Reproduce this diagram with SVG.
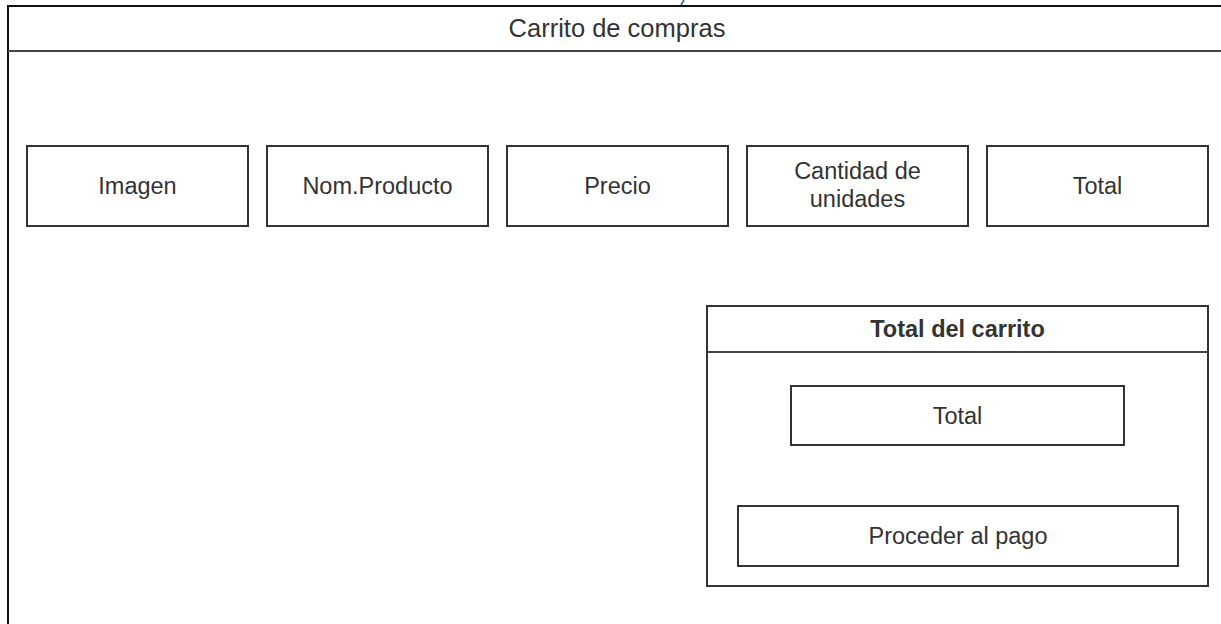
<svg xmlns="http://www.w3.org/2000/svg" width="1221" height="624" viewBox="0 0 1221 624">
  <style>
    .box { fill: #ffffff; stroke: #333333; stroke-width: 2; }
    .frame { fill: #ffffff; stroke: #111111; stroke-width: 2; }
    .sep { stroke: #444444; stroke-width: 2; fill: none; }
    .lbl { font-family: "Liberation Sans", Arial, sans-serif; font-size: 23.5px; fill: #333333; text-anchor: middle; }
    .hdr { font-family: "Liberation Sans", Arial, sans-serif; font-size: 25.5px; fill: #333333; text-anchor: middle; }
    .bold { font-weight: bold; }
  </style>
  <rect width="1221" height="624" fill="#ffffff"/>
  <line x1="684" y1="0" x2="681" y2="5" stroke="#2f5597" stroke-width="1.5"/>

  <g id="carrito">
    <rect class="frame" x="8" y="6" width="1240" height="640"/>
    <line class="sep" x1="8" y1="51" x2="1221" y2="51"/>
    <text class="hdr" x="617" y="37">Carrito de compras</text>
  </g>

  <g id="imagen">
    <rect class="box" x="27" y="146" width="221" height="80"/>
    <text class="lbl" x="137.5" y="194">Imagen</text>
  </g>
  <g id="nomproducto">
    <rect class="box" x="267" y="146" width="221" height="80"/>
    <text class="lbl" x="377.5" y="194">Nom.Producto</text>
  </g>
  <g id="precio">
    <rect class="box" x="507" y="146" width="221" height="80"/>
    <text class="lbl" x="617.5" y="194">Precio</text>
  </g>
  <g id="cantidad">
    <rect class="box" x="747" y="146" width="221" height="80"/>
    <text class="lbl" x="857.5" y="179">Cantidad de</text>
    <text class="lbl" x="857.5" y="207">unidades</text>
  </g>
  <g id="total">
    <rect class="box" x="987" y="146" width="221" height="80"/>
    <text class="lbl" x="1097.5" y="194">Total</text>
  </g>

  <g id="totalcarrito">
    <rect class="box" x="707" y="306" width="501" height="280"/>
    <line class="sep" x1="707" y1="352" x2="1208" y2="352"/>
    <text class="lbl bold" x="957.5" y="337">Total del carrito</text>
  </g>
  <g id="totalinner">
    <rect class="box" x="791" y="386" width="333" height="59"/>
    <text class="lbl" x="957.5" y="423.5">Total</text>
  </g>
  <g id="proceder">
    <rect class="box" x="738" y="506" width="440" height="60"/>
    <text class="lbl" x="958" y="544">Proceder al pago</text>
  </g>

  <g id="connectors"></g>
</svg>
